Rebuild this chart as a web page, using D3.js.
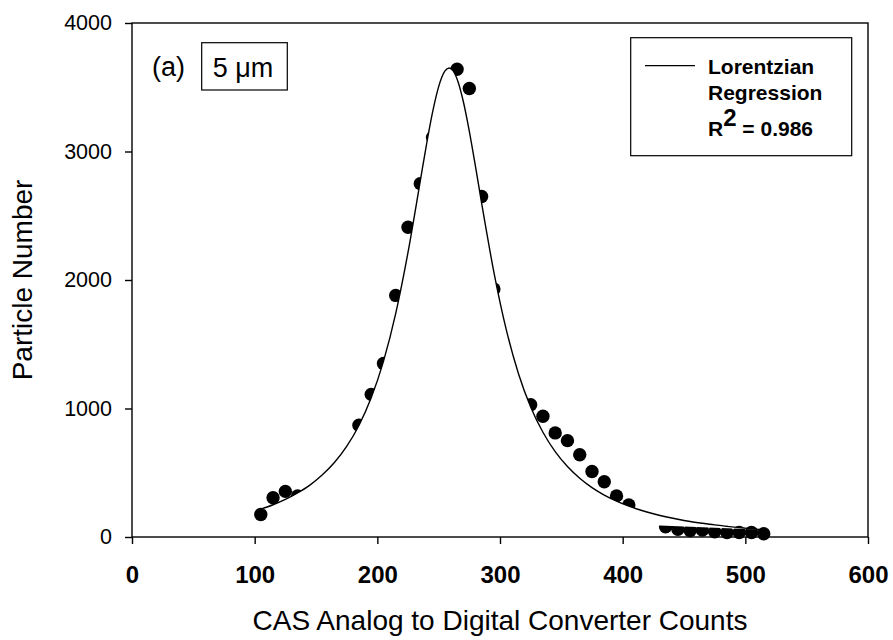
<!DOCTYPE html>
<html>
<head>
<meta charset="utf-8">
<script src="https://cdn.jsdelivr.net/npm/d3@7"></script>
<style>
  html, body { margin: 0; padding: 0; background: #fff; }
  svg { display: block; font-family: "Liberation Sans", Arial, sans-serif; }
</style>
</head>
<body>
<svg id="chart" width="893" height="640"></svg>
<script>
// Measured particle counts (CAS ADC channel, count) - visible markers
const pointX = [105, 115, 125, 135, 185, 195, 205, 215, 225, 235, 245, 265, 275, 285, 295,
                325, 335, 345, 355, 365, 375, 385, 395, 405, 435, 445, 455, 465, 475, 485, 495, 505, 515];
const pointY = [175, 305, 355, 320, 870, 1110, 1350, 1880, 2410, 2750, 3110, 3640, 3490, 2650, 1930,
                1030, 940, 810, 750, 640, 510, 430, 320, 250, 80, 60, 50, 55, 40, 35, 35, 35, 25];

// Lorentzian regression curve
const curveX = [105, 115, 125, 135, 145, 155, 165, 175, 185, 195, 205, 215, 225, 235, 240, 245, 250, 255, 258.5,
                262, 265, 270, 275, 280, 285, 295, 305, 315, 325, 335, 345, 355, 365, 375, 385, 395, 405, 415,
                425, 435, 445, 455, 465, 475, 485, 495, 505, 515];
const curveY = [217, 251, 292, 343, 404, 482, 580, 705, 868, 1083, 1367, 1740, 2215, 2770, 3050, 3304, 3505, 3625, 3650,
                3625, 3564, 3393, 3157, 2884, 2599, 2062, 1618, 1273, 1012, 815, 664, 548, 457, 384, 326, 279, 240, 208,
                181, 158, 138, 121, 107, 94, 83, 73, 64, 56];

const xTicks = [0, 100, 200, 300, 400, 500, 600];
const yTicks = [0, 1000, 2000, 3000, 4000];

const xTitle = "CAS Analog to Digital Converter Counts";
const yTitle = "Particle Number";
const legendLines = ["Lorentzian", "Regression"];
const r2Text = "0.986";

const svg = d3.select("#chart");
const L = 132, R = 868, T = 23, B = 537;
const x = d3.scaleLinear().domain([0, 600]).range([L, R]);
const y = d3.scaleLinear().domain([0, 4000]).range([B, T]);

// points
const pts = pointX.map((v, i) => ({x: v, y: pointY[i]}));
svg.append("g").selectAll("circle").data(pts).join("circle")
  .attr("cx", d => x(d.x)).attr("cy", d => y(d.y)).attr("r", 6.7).attr("fill", "#000");

// curve (filled white, closed by chord, as in the original)
const cpts = curveX.map((v, i) => ({x: v, y: curveY[i]}));
const line = d3.line().x(d => x(d.x)).y(d => y(d.y)).curve(d3.curveMonotoneX);
svg.append("path").attr("d", line(cpts) + "Z").attr("fill", "#fff").attr("stroke", "none");
svg.append("path").attr("d", line(cpts)).attr("fill", "none").attr("stroke", "#000").attr("stroke-width", 1.4);

// frame
svg.append("rect").attr("x", L).attr("y", T).attr("width", R - L).attr("height", B - T)
  .attr("fill", "none").attr("stroke", "#000").attr("stroke-width", 1.4);

// axes
const xAxis = d3.axisBottom(x).tickValues(xTicks).tickSize(7).tickPadding(22).tickFormat(d3.format("d"));
const gx = svg.append("g").attr("transform", `translate(0,${B})`).call(xAxis);
gx.select(".domain").remove();
gx.selectAll("line").attr("stroke", "#000").attr("stroke-width", 1.4);
gx.selectAll("text").attr("font-size", 24).attr("font-weight", "bold").attr("fill", "#000")
  .attr("font-family", "Liberation Sans, Arial, sans-serif");

const yAxis = d3.axisLeft(y).tickValues(yTicks).tickSize(7).tickPadding(13).tickFormat(d3.format("d"));
const gy = svg.append("g").attr("transform", `translate(${L},0)`).call(yAxis);
gy.select(".domain").remove();
gy.selectAll("line").attr("stroke", "#000").attr("stroke-width", 1.4);
gy.selectAll("text").attr("font-size", 21.5).attr("fill", "#000")
  .attr("font-family", "Liberation Sans, Arial, sans-serif");

// axis titles
svg.append("text").attr("x", 500).attr("y", 630).attr("text-anchor", "middle")
  .attr("font-size", 28).text(xTitle);
svg.append("text").attr("transform", "translate(32,280) rotate(-90)").attr("text-anchor", "middle")
  .attr("font-size", 28).text(yTitle);

// panel label
svg.append("text").attr("x", 152).attr("y", 76).attr("font-size", 27).text("(a)");
svg.append("rect").attr("x", 201.7).attr("y", 42.7).attr("width", 85.6).attr("height", 47.3)
  .attr("fill", "#fff").attr("stroke", "#000").attr("stroke-width", 1.2);
svg.append("text").attr("x", 243).attr("y", 77).attr("text-anchor", "middle").attr("font-size", 27).text("5 \u03bcm");

// legend
svg.append("rect").attr("x", 630.7).attr("y", 37.7).attr("width", 221).attr("height", 118)
  .attr("fill", "#fff").attr("stroke", "#000").attr("stroke-width", 1.2);
svg.append("line").attr("x1", 645).attr("x2", 695).attr("y1", 65.7).attr("y2", 65.7)
  .attr("stroke", "#000").attr("stroke-width", 1.2);
const lg = svg.append("g").attr("font-weight", "bold").attr("font-size", 21);
legendLines.forEach((t, i) => lg.append("text").attr("x", 708).attr("y", 74 + i * 26).text(t));
const r2 = lg.append("text").attr("x", 708).attr("y", 136);
r2.append("tspan").text("R");
r2.append("tspan").attr("dy", -10).attr("font-size", 24).text("2");
r2.append("tspan").attr("dy", 10).text(" = " + r2Text);
</script>
</body>
</html>
